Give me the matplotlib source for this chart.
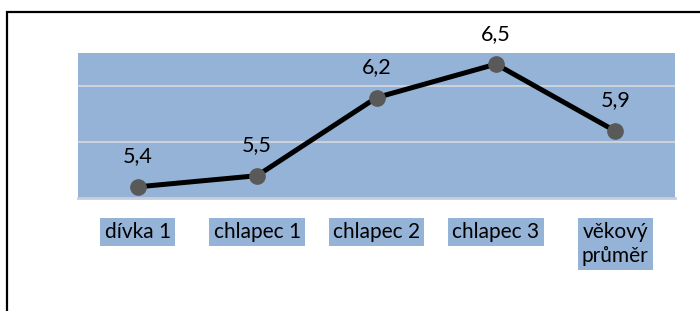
import matplotlib.pyplot as plt
from matplotlib.patches import Rectangle

# data
categories = ["dívka 1", "chlapec 1", "chlapec 2", "chlapec 3", "věkový\nprůměr"]
values = [5.4, 5.5, 6.2, 6.5, 5.9]
value_labels = ["5,4", "5,5", "6,2", "6,5", "5,9"]

plt.rcParams['font.family'] = ['Lato', 'DejaVu Sans']

fig = plt.figure(figsize=(7, 3.11), dpi=100)
ax = fig.add_axes([78 / 700, 1 - 198 / 311, (675 - 78) / 700, (198 - 53) / 311])

bg = '#95B3D7'
ax.set_facecolor(bg)
x = list(range(len(categories)))
ax.plot(x, values, color='black', linewidth=3.6, zorder=3,
        marker='o', markersize=11, markerfacecolor='#595959', markeredgecolor='#595959')

for xi, v, lab in zip(x, values, value_labels):
    ax.annotate(lab, (xi, v), xytext=(0, 22), textcoords='offset points',
                ha='center', va='center', fontsize=15.5, color='black')

ax.set_xlim(-0.5, len(categories) - 0.5)
ax.set_ylim(5.3, 6.6)
ax.set_yticks([5.8, 6.3])
ax.yaxis.grid(True, color='#D9D9D9', linewidth=1.2)
ax.set_axisbelow(True)
ax.tick_params(axis='y', left=False, labelleft=False)
ax.tick_params(axis='x', bottom=False, pad=14)

ax.set_xticks(x)
ax.set_xticklabels(categories, fontsize=15, va='top', linespacing=1.2)
for t in ax.get_xticklabels():
    t.set_bbox(dict(facecolor=bg, edgecolor='none', pad=3))

for side in ['top', 'left', 'right']:
    ax.spines[side].set_visible(False)
ax.spines['bottom'].set_color('#C8CEDA')
ax.spines['bottom'].set_linewidth(2)

# outer chart frame (cut off at the right and bottom)
fig.patches.append(Rectangle((6.5 / 700, -0.2), 1.2, (311 - 11.5) / 311 + 0.2,
                             transform=fig.transFigure, fill=False,
                             edgecolor='black', linewidth=1.6))

fig.savefig('out.png', dpi=100)
